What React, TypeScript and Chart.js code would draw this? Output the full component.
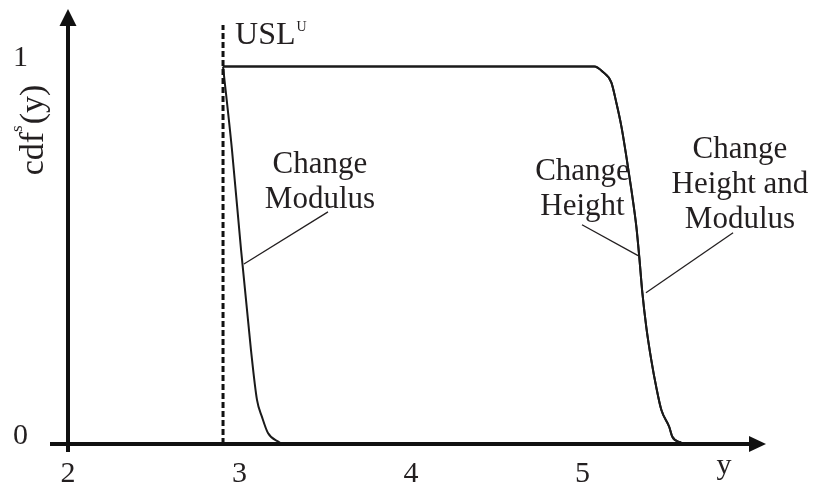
import { useEffect, useRef } from "react";
import { Chart, registerables } from "chart.js";

Chart.register(...registerables);

// Axis ticks
const xTicks = [2, 3, 4, 5];
const yTicks = [0, 1];

// Upper specification limit
const usl = 2.904;
const uslTop = 1.11;

// cdf curve: Change Modulus
const modulusX = [2.904, 2.956, 3.009, 3.067, 3.102, 3.131, 3.166, 3.236];
const modulusY = [1.0, 0.78, 0.515, 0.249, 0.117, 0.072, 0.029, 0.003];

// cdf curve: Change Height
const heightX = [2.904, 5.069, 5.116, 5.168, 5.197, 5.227, 5.256, 5.285, 5.314, 5.331, 5.349, 5.372, 5.401, 5.43, 5.46, 5.506, 5.524, 5.576];
const heightY = [1.0, 1.0, 0.987, 0.958, 0.905, 0.841, 0.761, 0.674, 0.576, 0.496, 0.401, 0.31, 0.223, 0.151, 0.09, 0.045, 0.019, 0.003];

// cdf curve: Change Height and Modulus
const bothX = [2.904, 5.069, 5.116, 5.168, 5.197, 5.227, 5.256, 5.285, 5.314, 5.331, 5.349, 5.372, 5.401, 5.43, 5.46, 5.506, 5.524, 5.576];
const bothY = [1.0, 1.0, 0.987, 0.958, 0.905, 0.841, 0.761, 0.674, 0.576, 0.496, 0.401, 0.31, 0.223, 0.151, 0.09, 0.045, 0.019, 0.003];

const INK = "#231f20";
const SERIF = "'Liberation Serif', 'Times New Roman', serif";

// Curve callouts: text anchor (first baseline) and leader from text to curve
const callouts = [
  { lines: ["Change", "Modulus"], at: [3.469, 0.719], from: [3.516, 0.615], to: [3.026, 0.477] },
  { lines: ["Change", "Height"], at: [5.0, 0.7], from: [4.997, 0.581], to: [5.324, 0.499] },
  { lines: ["Change", "Height and", "Modulus"], at: [5.918, 0.759], from: [5.878, 0.56], to: [5.37, 0.401] },
];

const toPoints = (xs: number[], ys: number[]) => xs.map((x, i) => ({ x, y: ys[i] }));

const overlay = {
  id: "overlay",
  afterDatasetsDraw(chart: any) {
    const { ctx } = chart;
    const xs = chart.scales.x;
    const ys = chart.scales.y;
    const px = (v: number) => xs.getPixelForValue(v);
    const py = (v: number) => ys.getPixelForValue(v);
    const x0 = px(2);
    const y0 = py(0);

    ctx.save();
    ctx.strokeStyle = "#111";
    ctx.fillStyle = "#111";

    // axes with arrowheads
    ctx.lineWidth = 4;
    ctx.beginPath();
    ctx.moveTo(x0 - 18, y0);
    ctx.lineTo(xs.right - 12, y0);
    ctx.moveTo(x0, y0 + 8);
    ctx.lineTo(x0, ys.top + 12);
    ctx.stroke();
    ctx.beginPath();
    ctx.moveTo(xs.right, y0);
    ctx.lineTo(xs.right - 17, y0 - 8);
    ctx.lineTo(xs.right - 17, y0 + 8);
    ctx.closePath();
    ctx.fill();
    ctx.beginPath();
    ctx.moveTo(x0, ys.top - 1);
    ctx.lineTo(x0 - 8.5, ys.top + 16);
    ctx.lineTo(x0 + 8.5, ys.top + 16);
    ctx.closePath();
    ctx.fill();

    ctx.fillStyle = INK;
    ctx.strokeStyle = INK;

    // x axis name
    ctx.font = `30px ${SERIF}`;
    ctx.textAlign = "center";
    ctx.textBaseline = "alphabetic";
    ctx.fillText("y", xs.right - 42, y0 + 30);

    // USL label
    ctx.textAlign = "left";
    ctx.font = `32px ${SERIF}`;
    const ux = px(usl) + 12;
    const uy = py(1) - 23;
    ctx.fillText("USL", ux, uy);
    const uw = ctx.measureText("USL").width;
    ctx.font = `14px ${SERIF}`;
    ctx.fillText("U", ux + uw + 1, uy - 13);

    // y axis title, rotated
    ctx.save();
    ctx.translate(43, 130);
    ctx.rotate(-Math.PI / 2);
    ctx.textAlign = "left";
    const parts: [string, number, number][] = [["cdf", 34, 0], ["s", 17, 21], ["(y)", 34, 0]];
    const total = parts.reduce((s, [t, f]) => {
      ctx.font = `${f}px ${SERIF}`;
      return s + ctx.measureText(t).width;
    }, 0) + 1;
    let cx = -total / 2;
    for (const [t, f, rise] of parts) {
      ctx.font = `${f}px ${SERIF}`;
      ctx.fillText(t, cx, -rise);
      cx += ctx.measureText(t).width + (t === "s" ? 1 : 0);
    }
    ctx.restore();

    // callouts
    ctx.font = `31px ${SERIF}`;
    ctx.textAlign = "center";
    for (const c of callouts) {
      c.lines.forEach((line, i) => ctx.fillText(line, px(c.at[0]), py(c.at[1]) + i * 35));
      ctx.lineWidth = 1.3;
      ctx.beginPath();
      ctx.moveTo(px(c.from[0]), py(c.from[1]));
      ctx.lineTo(px(c.to[0]), py(c.to[1]));
      ctx.stroke();
    }
    ctx.restore();
  },
};

const noPadding = (axis: any) => {
  axis.paddingTop = 0;
  axis.paddingBottom = 0;
  axis.paddingLeft = 0;
  axis.paddingRight = 0;
};

export default function App() {
  const ref = useRef<HTMLCanvasElement | null>(null);

  useEffect(() => {
    if (!ref.current) return;
    const curve = (label: string, xs: number[], ys: number[]) => ({
      label,
      data: toPoints(xs, ys),
      showLine: true,
      borderColor: "#1a1a1a",
      borderWidth: 2,
      pointRadius: 0,
      cubicInterpolationMode: "monotone" as const,
      fill: false,
    });
    const chart = new Chart(ref.current, {
      type: "scatter",
      data: {
        datasets: [
          {
            label: "USL",
            data: [{ x: usl, y: 0 }, { x: usl, y: uslTop }],
            showLine: true,
            borderColor: "#111",
            borderWidth: 3,
            borderDash: [6, 3],
            pointRadius: 0,
          },
          curve("Change Modulus", modulusX, modulusY),
          curve("Change Height", heightX, heightY),
          curve("Change Height and Modulus", bothX, bothY),
        ],
      },
      options: {
        animation: false,
        responsive: false,
        layout: { padding: { top: 10, right: 49, left: 0, bottom: 0 } },
        plugins: { legend: { display: false }, tooltip: { enabled: false } },
        scales: {
          x: {
            type: "linear",
            min: 2,
            max: 6.07,
            grid: { display: false, drawTicks: false },
            border: { display: false },
            ticks: {
              color: INK,
              font: { family: SERIF, size: 30 },
              padding: 12,
              autoSkip: false,
              maxRotation: 0,
            },
            afterBuildTicks: (axis: any) => {
              axis.ticks = xTicks.map((value) => ({ value }));
            },
            afterFit: (axis: any) => {
              axis.height = 42;
              noPadding(axis);
            },
          },
          y: {
            type: "linear",
            min: 0,
            max: 1.15,
            grid: { display: false, drawTicks: false },
            border: { display: false },
            ticks: {
              color: INK,
              font: { family: SERIF, size: 30 },
              padding: 40,
              labelOffset: -8,
            },
            afterBuildTicks: (axis: any) => {
              axis.ticks = yTicks.map((value) => ({ value }));
            },
            afterFit: (axis: any) => {
              axis.width = 68;
              noPadding(axis);
            },
          },
        },
      },
      plugins: [overlay],
    });
    return () => chart.destroy();
  }, []);

  return (
    <div style={{ position: "absolute", left: 0, top: 0, width: 815, height: 486, background: "#fff" }}>
      <canvas ref={ref} width={815} height={486} />
    </div>
  );
}
